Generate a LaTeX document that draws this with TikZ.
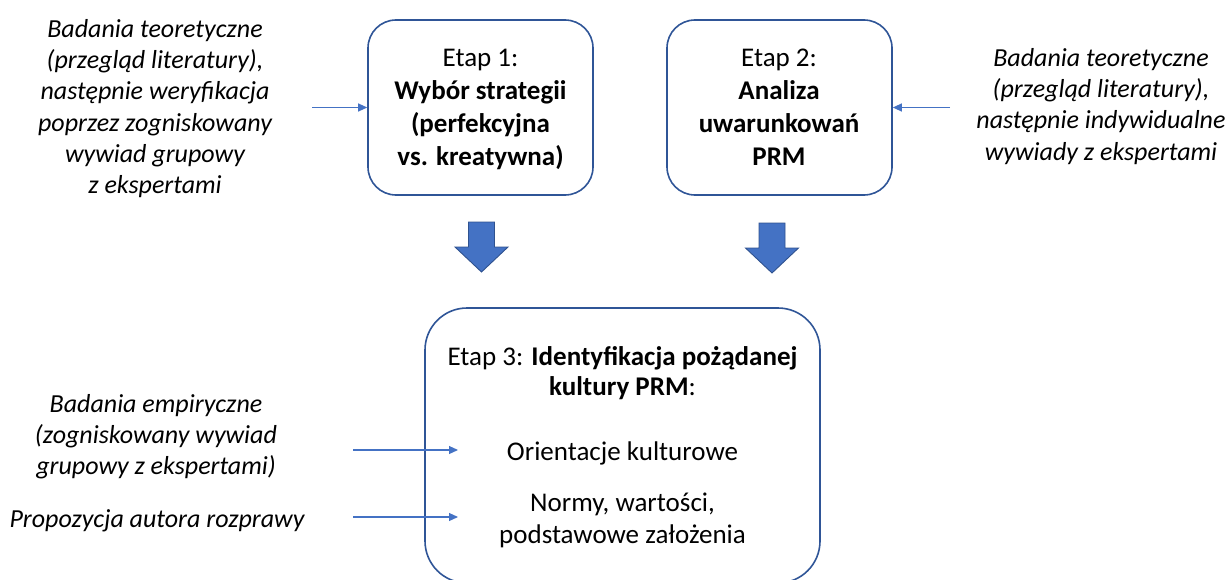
\documentclass[tikz,border=0pt]{standalone}
\usepackage{fontspec}
\setmainfont{Carlito}
\usetikzlibrary{arrows.meta}

\definecolor{boxline}{HTML}{2F5597}
\definecolor{accent}{HTML}{4472C4}
\definecolor{accentdark}{HTML}{2F528F}

\begin{document}
\begin{tikzpicture}[x=1pt,y=-1pt,
  stagebox/.style={draw=boxline, line width=1.6pt, rounded corners=28pt,
    minimum width=225pt, minimum height=175pt, inner sep=0pt},
  bigbox/.style={draw=boxline, line width=1.6pt, rounded corners=42pt,
    minimum width=395pt, minimum height=275pt, inner sep=0pt},
  note/.style={font=\fontsize{26}{31.3}\selectfont\itshape, align=center,
    inner sep=0pt, anchor=north},
  label/.style={font=\fontsize{27}{32.8}\selectfont, align=center,
    inner sep=0pt, anchor=north},
  feed/.style={draw=accent, line width=1.1pt,
    -{Triangle[length=9pt,width=8pt]}},
  blockarrow/.style={fill=accent, draw=accentdark, line width=0.9pt}
]
\clip (0,0) rectangle (1230,580);

% stage boxes
\node[stagebox] (box1) at (480.5,107.5) {};
\node[stagebox] (box2) at (779.5,107.5) {};
\node[bigbox]   (box3) at (622.5,445.5) {};

% texts inside the stage boxes
\node[label] (t1) at (480.5,43.7)
  {\strut Etap 1:\\\textbf{Wybór strategii}\\\textbf{(perfekcyjna}\\\textbf{vs. kreatywna)}};
\node[label] (t2) at (779,43.7)
  {\strut Etap 2:\\\textbf{Analiza}\\\textbf{uwarunkowań}\\\textbf{PRM}};
\node[label, font=\fontsize{27}{30.5}\selectfont] (t3) at (622.5,343.6)
  {\strut Etap 3: \textbf{Identyfikacja pożądanej}\\\textbf{kultury PRM}:};
\node[label] (o1) at (622.5,437)
  {\strut Orientacje kulturowe};
\node[label, font=\fontsize{27}{31.6}\selectfont] (o2) at (622.5,489.2)
  {\strut Normy, wartości,\\podstawowe założenia};

% side notes
\node[note] (n1) at (155,15.1)
  {\strut Badania teoretyczne\\(przegląd literatury),\\następnie weryfikacja\\poprzez zogniskowany\\wywiad grupowy\\z ekspertami};
\node[note] (n2) at (1101,44.1)
  {\strut Badania teoretyczne\\(przegląd literatury),\\następnie indywidualne\\wywiady z ekspertami};
\node[note] (n3) at (156,390.1)
  {\strut Badania empiryczne\\(zogniskowany wywiad\\grupowy z ekspertami)};
\node[note] (n4) at (157,505.1)
  {\strut Propozycja autora rozprawy};

% thin feed arrows
\coordinate (f1) at (312,107.5);
\coordinate (f2) at (950,107.5);
\coordinate (f3s) at (353,450);
\coordinate (f3e) at (458,450);
\coordinate (f4s) at (353,517);
\coordinate (f4e) at (458,517);
\draw[feed] (f1) -- (box1.west);
\draw[feed] (f2) -- (box2.east);
\draw[feed] (f3s) -- (f3e);
\draw[feed] (f4s) -- (f4e);

% block arrows from stage 1 and 2 down to stage 3
\foreach \cx/\cy in {481.5/222, 772/223}{
  \path[blockarrow, shift={(\cx,\cy)}]
    (-13,0) -- (13,0) -- (13,25) -- (26.5,25) -- (0,50) -- (-26.5,25) -- (-13,25) -- cycle;
}
\end{tikzpicture}
\end{document}
